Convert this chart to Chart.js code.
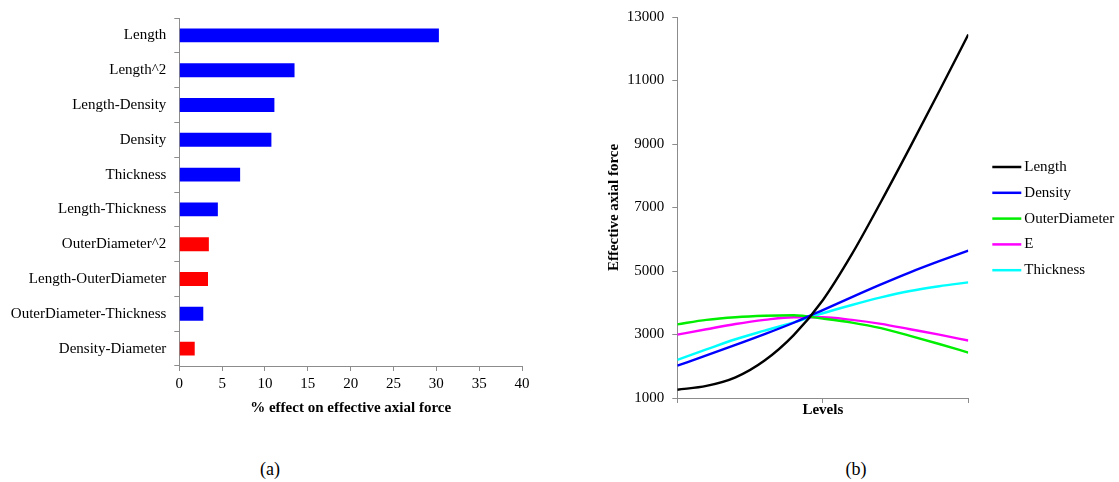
<!DOCTYPE html>
<html>
<head>
<meta charset="utf-8">
<script src="https://cdn.jsdelivr.net/npm/chart.js@4.4.1/dist/chart.umd.min.js"></script>
<style>
  body { margin: 0; width: 1119px; height: 482px; background: #fff; position: relative; overflow: hidden; font-family: "Liberation Serif", "Times New Roman", serif; }
  .box { position: absolute; top: 0; height: 430px; }
  #boxA { left: 0; width: 560px; }
  #boxB { left: 560px; width: 559px; }
  .caption { position: absolute; font-size: 18px; transform: translate(-50%, -50%); }
</style>
</head>
<body>
<div class="box" id="boxA"><canvas id="effectChart"></canvas></div>
<div class="box" id="boxB"><canvas id="levelChart"></canvas></div>
<div class="caption" style="left:270px; top:469px">(a)</div>
<div class="caption" style="left:856px; top:469px">(b)</div>
<script>
// (a) factor effects
const effectLabels = ['Length', 'Length^2', 'Length-Density', 'Density', 'Thickness', 'Length-Thickness',
  'OuterDiameter^2', 'Length-OuterDiameter', 'OuterDiameter-Thickness', 'Density-Diameter'];
const effectValues = [30.3, 13.45, 11.1, 10.75, 7.1, 4.5, 3.45, 3.35, 2.8, 1.8];
const effectSign = [1, 1, 1, 1, 1, 1, -1, -1, 1, -1]; // -1 = drawn red

// (b) effective axial force over the factor levels
const levels = [-1, -0.8, -0.6, -0.4, -0.2, 0, 0.2, 0.4, 0.6, 0.8, 1];
const lengthForce = [1260, 1380, 1650, 2180, 2980, 4080, 5530, 7180, 8900, 10660, 12450];
const densityForce = [2018, 2340, 2670, 3010, 3370, 3770, 4180, 4580, 4960, 5310, 5645];
const diameterForce = [3320, 3460, 3545, 3590, 3605, 3500, 3375, 3200, 2955, 2700, 2430];
const eForce = [2995, 3165, 3330, 3460, 3545, 3545, 3460, 3335, 3165, 2995, 2810];
const thicknessForce = [2200, 2530, 2850, 3120, 3380, 3670, 3930, 4170, 4370, 4520, 4640];
const forceTicks = [1000, 3000, 5000, 7000, 9000, 11000, 13000];

const AXIS_GREY = '#8c8c8c';
const FONT = 'Liberation Serif';

Chart.defaults.font.family = FONT;
Chart.defaults.font.size = 15;
Chart.defaults.color = '#000';
Chart.defaults.animation = false;

// Bar chart (a)
new Chart(document.getElementById('effectChart'), {
    type: 'bar',
    data: {
        labels: effectLabels,
        datasets: [{
            data: effectValues,
            backgroundColor: effectSign.map(s => s < 0 ? '#ff0000' : '#0000ff'),
            barPercentage: 0.4,
            categoryPercentage: 1
        }]
    },
    options: {
        indexAxis: 'y',
        responsive: true,
        maintainAspectRatio: false,
        layout: { padding: { top: 18, right: 38, bottom: 13, left: 0 } },
        plugins: { legend: { display: false }, tooltip: { enabled: false } },
        scales: {
            x: {
                min: 0, max: 40,
                ticks: { stepSize: 5, padding: 4 },
                grid: { drawOnChartArea: false, color: AXIS_GREY, tickLength: 5 },
                border: { color: AXIS_GREY },
                title: { display: true, text: '% effect on effective axial force', font: { weight: 'bold' }, padding: 0 },
                afterFit: s => { s.height = 51; }
            },
            y: {
                ticks: { padding: 8 },
                grid: { drawOnChartArea: false, color: AXIS_GREY, tickLength: 5 },
                border: { color: AXIS_GREY },
                afterFit: s => { s.width = 179.3; }
            }
        }
    }
});

// Legend drawn beside the plot, line sample + label
const lineLegend = {
    id: 'lineLegend',
    afterDraw(chart) {
        const ctx = chart.ctx;
        const x = chart.chartArea.right + 24;
        chart.data.datasets.forEach((ds, i) => {
            const y = 167 + i * 25.8;
            ctx.save();
            ctx.strokeStyle = ds.borderColor;
            ctx.lineWidth = 2.5;
            ctx.beginPath();
            ctx.moveTo(x, y);
            ctx.lineTo(x + 29, y);
            ctx.stroke();
            ctx.fillStyle = '#000';
            ctx.font = '15px "' + FONT + '"';
            ctx.textBaseline = 'middle';
            ctx.fillText(ds.label, x + 32, y);
            ctx.restore();
        });
    }
};

function series(label, values, color) {
    return {
        label: label,
        data: levels.map((lv, i) => ({ x: lv, y: values[i] })),
        borderColor: color,
        borderWidth: 2.4,
        pointRadius: 0,
        cubicInterpolationMode: 'monotone',
        fill: false
    };
}

// Line chart (b)
new Chart(document.getElementById('levelChart'), {
    type: 'line',
    data: {
        datasets: [
            series('Length', lengthForce, '#000000'),
            series('Density', densityForce, '#0000ff'),
            series('OuterDiameter', diameterForce, '#00ee00'),
            series('E', eForce, '#ff00ff'),
            series('Thickness', thicknessForce, '#00ffff')
        ]
    },
    plugins: [lineLegend],
    options: {
        responsive: true,
        maintainAspectRatio: false,
        layout: { padding: { top: 17, right: 150.7, bottom: 11, left: 45 } },
        plugins: { legend: { display: false }, tooltip: { enabled: false } },
        scales: {
            x: {
                type: 'linear',
                min: -1, max: 1,
                ticks: { stepSize: 1, callback: () => '' },
                grid: { drawOnChartArea: false, color: AXIS_GREY, tickLength: 5 },
                border: { color: AXIS_GREY },
                title: { display: true, text: 'Levels', font: { weight: 'bold' }, padding: 0 },
                afterFit: s => { s.height = 21; }
            },
            y: {
                min: forceTicks[0], max: forceTicks[forceTicks.length - 1],
                afterBuildTicks: s => { s.ticks = forceTicks.map(v => ({ value: v })); },
                ticks: { padding: 8, callback: v => String(v) },
                grid: { drawOnChartArea: false, color: AXIS_GREY, tickLength: 5 },
                border: { color: AXIS_GREY },
                title: { display: true, text: 'Effective axial force', font: { weight: 'bold' }, padding: 0 },
                afterFit: s => { s.width = 72.3; }
            }
        }
    }
});
</script>
</body>
</html>
